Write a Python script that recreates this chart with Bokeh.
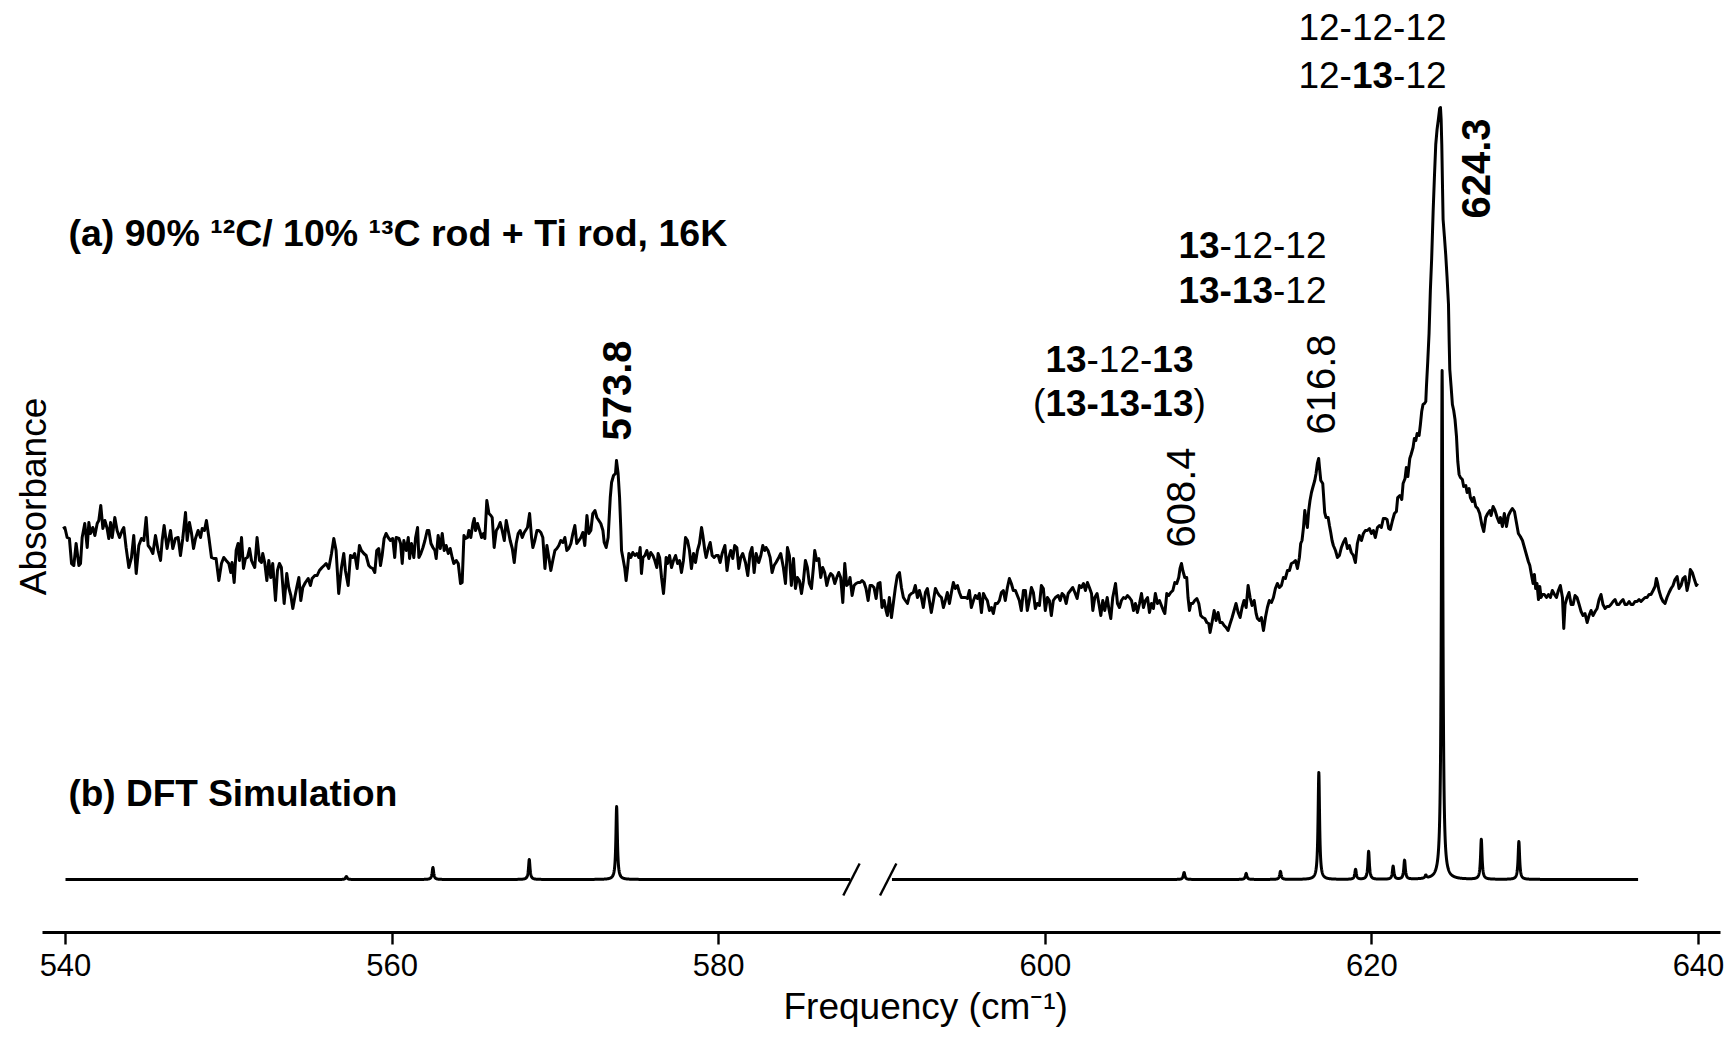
import numpy as np
from bokeh.plotting import figure
from bokeh.models import Range1d, Label, ColumnDataSource, FixedTicker, Title
from bokeh.core.properties import value
from bokeh.embed import file_html
from bokeh.resources import INLINE

# ---------------- data ----------------
# (a) experimental trace, absorbance (arb. units x1000) vs frequency (cm-1)
exp_freq_1 = [539.84, 539.96, 540.10, 540.24, 540.37, 540.51, 540.65, 540.82, 540.92, 541.02,
              541.18, 541.33, 541.43, 541.53, 541.67, 541.80, 541.94, 542.04, 542.16, 542.29,
              542.41, 542.55, 542.65, 542.76, 542.86, 543.02, 543.16, 543.31, 543.47, 543.57,
              543.71, 543.88, 544.04, 544.18, 544.33, 544.49, 544.65, 544.80, 544.94, 545.06,
              545.20, 545.35, 545.51, 545.67, 545.82, 545.92, 546.04, 546.22, 546.43, 546.57,
              546.73, 546.90, 547.04, 547.18, 547.35, 547.45, 547.59, 547.71, 547.84, 547.96,
              548.12, 548.27, 548.37, 548.51, 548.63, 548.78, 548.94, 549.08, 549.22, 549.39,
              549.55, 549.69, 549.84, 550.00, 550.12, 550.20, 550.33, 550.45, 550.57, 550.65,
              550.78, 550.90, 551.02, 551.14, 551.27, 551.39, 551.47, 551.59, 551.73, 551.88,
              552.00, 552.08, 552.20, 552.33, 552.45, 552.57, 552.69, 552.86, 552.98, 553.10,
              553.22, 553.39, 553.55, 553.67, 553.80, 553.92, 554.04, 554.16, 554.29, 554.41,
              554.53, 554.69, 554.86, 555.00, 555.10, 555.27, 555.41, 555.55, 555.71, 555.84,
              555.96, 556.12, 556.29, 556.43, 556.57, 556.73, 556.90, 557.04, 557.14, 557.31,
              557.45, 557.59, 557.71, 557.86, 558.00, 558.12, 558.27, 558.41, 558.57, 558.69,
              558.82, 558.94, 559.06, 559.18, 559.29, 559.39, 559.51, 559.63, 559.76, 559.90,
              560.04, 560.16]
exp_abs_1 = [404, 405, 395, 394, 369, 367, 389, 367, 369, 395,
             409, 385, 410, 399, 405, 397, 409, 412, 427, 404,
             412, 404, 394, 410, 395, 415, 402, 395, 402, 405,
             385, 365, 375, 397, 359, 387, 394, 392, 415, 387,
             384, 379, 397, 382, 372, 392, 407, 384, 402, 384,
             394, 395, 377, 394, 420, 392, 410, 400, 384, 394,
             402, 395, 404, 402, 412, 395, 375, 374, 374, 352,
             369, 375, 372, 369, 360, 370, 350, 382, 389, 372,
             395, 364, 374, 375, 384, 372, 369, 365, 395, 372,
             370, 379, 370, 352, 372, 355, 369, 332, 362, 369,
             365, 329, 359, 345, 337, 324, 335, 345, 355, 332,
             345, 350, 354, 347, 354, 357, 357, 362, 365, 367,
             369, 364, 379, 394, 382, 339, 365, 379, 362, 347,
             377, 375, 379, 364, 387, 382, 379, 377, 367, 365,
             364, 360, 382, 384, 367, 377, 394, 399, 395, 392,
             394, 375]

exp_freq_2 = [560.25, 560.42, 560.52, 560.62, 560.72, 560.87, 560.99, 561.07, 561.19, 561.33,
              561.44, 561.56, 561.64, 561.76, 561.89, 562.01, 562.15, 562.25, 562.38, 562.50,
              562.62, 562.70, 562.82, 562.95, 563.07, 563.19, 563.31, 563.44, 563.56, 563.68,
              563.78, 563.93, 564.05, 564.19, 564.29, 564.40, 564.50, 564.62, 564.70, 564.82,
              564.95, 565.03, 565.11, 565.23, 565.36, 565.48, 565.60, 565.68, 565.80, 565.93,
              566.05, 566.13, 566.25, 566.38, 566.50, 566.62, 566.74, 566.87, 566.99, 567.11,
              567.23, 567.36, 567.48, 567.60, 567.72, 567.84, 567.97, 568.09, 568.17, 568.29,
              568.42, 568.54, 568.62, 568.74, 568.87, 568.99, 569.11, 569.23, 569.36, 569.48,
              569.60, 569.72, 569.84, 569.97, 570.09, 570.21, 570.33, 570.46, 570.58, 570.70,
              570.82, 570.95, 571.07, 571.19, 571.31, 571.44, 571.56, 571.68, 571.80, 571.93,
              572.05, 572.17, 572.29, 572.42, 572.54, 572.66, 572.78, 572.91, 572.99, 573.11,
              573.23, 573.36, 573.44, 573.56, 573.68, 573.74, 573.84, 573.93, 574.01, 574.05,
              574.13, 574.25, 574.33, 574.42, 574.50, 574.62, 574.74, 574.87, 574.99, 575.11,
              575.19, 575.27, 575.36, 575.48, 575.60, 575.72, 575.84, 575.97, 576.09, 576.21,
              576.29, 576.38, 576.50, 576.62, 576.70, 576.78, 576.87, 576.99, 577.11, 577.23,
              577.36, 577.48, 577.60, 577.72, 577.84, 577.97, 578.09, 578.21, 578.33, 578.46,
              578.58, 578.70, 578.82, 578.95, 579.03, 579.15, 579.23, 579.36, 579.48, 579.60,
              579.72, 579.84, 579.97, 580.09, 580.21, 580.38]
exp_abs_2 = [395, 394, 389, 369, 392, 382, 395, 374, 389, 375,
             395, 405, 375, 379, 385, 392, 402, 402, 389, 385,
             382, 374, 397, 384, 399, 382, 387, 379, 384, 375,
             369, 372, 369, 349, 350, 397, 394, 395, 402, 395,
             409, 414, 402, 409, 402, 395, 399, 394, 432, 419,
             417, 415, 385, 402, 405, 410, 402, 392, 412, 402,
             392, 384, 370, 389, 399, 402, 395, 400, 402, 405,
             419, 395, 385, 392, 402, 402, 400, 395, 364, 387,
             375, 362, 372, 382, 384, 387, 392, 390, 395, 382,
             384, 389, 399, 407, 389, 392, 395, 400, 387, 417,
             399, 402, 419, 422, 415, 412, 409, 402, 390, 385,
             395, 435, 450, 457, 459, 472, 459, 435, 402, 382,
             375, 364, 352, 365, 379, 375, 380, 377, 379, 375,
             385, 359, 375, 377, 382, 374, 380, 377, 372, 365,
             379, 375, 355, 339, 355, 375, 369, 377, 365, 372,
             377, 369, 372, 360, 372, 395, 392, 382, 364, 379,
             370, 382, 389, 405, 397, 382, 375, 384, 390, 377,
             375, 377, 377, 370, 379, 387]

exp_freq_3 = [580.51, 580.62, 580.74, 580.86, 580.98, 581.11, 581.23, 581.35, 581.47, 581.64,
              581.78, 581.92, 582.04, 582.17, 582.29, 582.45, 582.58, 582.70, 582.82, 582.90,
              583.02, 583.15, 583.27, 583.39, 583.51, 583.68, 583.80, 583.96, 584.09, 584.21,
              584.33, 584.45, 584.58, 584.70, 584.82, 584.94, 585.07, 585.19, 585.31, 585.43,
              585.55, 585.68, 585.80, 585.88, 586.00, 586.13, 586.25, 586.37, 586.49, 586.62,
              586.74, 586.86, 586.98, 587.11, 587.23, 587.35, 587.47, 587.60, 587.72, 587.84,
              587.96, 588.04, 588.17, 588.29, 588.41, 588.53, 588.66, 588.78, 588.90, 589.02,
              589.15, 589.27, 589.39, 589.51, 589.64, 589.76, 589.88, 590.00, 590.13, 590.25,
              590.33, 590.45, 590.58, 590.70, 590.82, 590.94, 591.07, 591.19, 591.31, 591.43,
              591.56, 591.68, 591.80, 591.92, 592.04, 592.17, 592.29, 592.41, 592.53, 592.66,
              592.78, 592.90, 593.02, 593.15, 593.27, 593.39, 593.51, 593.64, 593.76, 593.88,
              594.00, 594.13, 594.25, 594.37, 594.49, 594.62, 594.74, 594.86, 594.98, 595.11,
              595.23, 595.35, 595.47, 595.60, 595.72, 595.84, 595.96, 596.09, 596.21, 596.33,
              596.45, 596.58, 596.70, 596.82, 596.94, 597.07, 597.19, 597.31, 597.43, 597.55,
              597.68, 597.80, 597.92, 598.04, 598.17, 598.29, 598.41, 598.53, 598.66, 598.78,
              598.90, 599.02, 599.15, 599.27, 599.39, 599.51, 599.64, 599.76, 599.88, 600.00,
              600.13, 600.25, 600.37, 600.49, 600.62]
exp_abs_3 = [362, 375, 382, 374, 387, 385, 364, 375, 379, 370,
             357, 379, 385, 360, 379, 370, 377, 387, 382, 385,
             382, 375, 360, 367, 370, 375, 379, 365, 349, 385,
             377, 347, 374, 344, 355, 352, 339, 352, 372, 365,
             349, 344, 365, 382, 372, 374, 355, 365, 360, 347,
             355, 359, 357, 349, 355, 360, 355, 330, 369, 347,
             349, 355, 337, 347, 349, 350, 350, 352, 350, 344,
             332, 347, 347, 345, 334, 349, 350, 325, 332, 322,
             317, 335, 315, 330, 345, 357, 360, 345, 335, 332,
             329, 337, 339, 340, 347, 335, 342, 335, 325, 340,
             344, 332, 320, 332, 344, 340, 337, 335, 325, 332,
             340, 329, 340, 350, 344, 347, 340, 335, 335, 335,
             334, 342, 325, 332, 337, 334, 339, 320, 339, 335,
             332, 322, 325, 319, 329, 329, 332, 340, 342, 332,
             345, 354, 349, 342, 342, 337, 332, 322, 342, 342,
             322, 332, 345, 340, 324, 329, 327, 347, 344, 322,
             335, 332, 317, 332, 335]

exp_freq_4 = [600.79, 600.91, 601.03, 601.15, 601.28, 601.40, 601.54, 601.68, 601.81, 601.95,
              602.09, 602.21, 602.34, 602.46, 602.58, 602.70, 602.83, 602.91, 603.03, 603.17,
              603.28, 603.40, 603.52, 603.64, 603.79, 603.89, 604.01, 604.13, 604.30, 604.42,
              604.54, 604.66, 604.79, 604.91, 605.03, 605.15, 605.28, 605.40, 605.52, 605.64,
              605.77, 605.89, 606.01, 606.13, 606.26, 606.38, 606.50, 606.62, 606.74, 606.87,
              606.99, 607.11, 607.23, 607.32, 607.44, 607.56, 607.68, 607.81, 607.93, 608.05,
              608.17, 608.25, 608.34, 608.42, 608.54, 608.66, 608.74, 608.83, 608.91, 609.03,
              609.15, 609.28, 609.40, 609.52, 609.64, 609.77, 609.89, 610.01, 610.09, 610.21,
              610.34, 610.46, 610.58, 610.70, 610.83, 610.95, 611.07, 611.19, 611.32, 611.44,
              611.56, 611.68, 611.81, 611.93, 612.05, 612.17, 612.30, 612.42, 612.54, 612.66,
              612.79, 612.91, 612.99, 613.11, 613.23, 613.36, 613.48, 613.60, 613.72, 613.85,
              613.97, 614.09, 614.21, 614.34, 614.46, 614.58, 614.70, 614.83, 614.95, 615.07,
              615.19, 615.32, 615.44, 615.56, 615.64, 615.72, 615.81, 615.89, 615.97, 616.05,
              616.13, 616.21, 616.30, 616.38, 616.50, 616.58, 616.66, 616.74, 616.79, 616.87,
              616.99, 617.11, 617.19, 617.32, 617.40, 617.48, 617.56, 617.64, 617.77, 617.89,
              618.01, 618.13, 618.25, 618.38, 618.50, 618.62, 618.74, 618.87, 618.99, 619.11,
              619.23, 619.36, 619.48, 619.60, 619.72, 619.85, 619.97, 620.09, 620.21, 620.34,
              620.46, 620.58, 620.70, 620.83]
exp_abs_4 = [337, 332, 339, 337, 329, 339, 342, 345, 340, 334,
             347, 345, 349, 342, 350, 345, 339, 322, 335, 339,
             329, 317, 332, 322, 335, 324, 314, 335, 349, 329,
             325, 332, 335, 334, 337, 335, 332, 322, 329, 320,
             329, 339, 325, 332, 335, 320, 329, 324, 339, 329,
             332, 327, 322, 319, 339, 337, 340, 342, 350, 349,
             355, 364, 369, 362, 355, 355, 335, 322, 329, 329,
             332, 334, 329, 317, 315, 314, 310, 309, 300, 310,
             322, 312, 320, 310, 310, 307, 305, 302, 309, 315,
             322, 329, 320, 315, 325, 332, 325, 347, 335, 327,
             332, 319, 314, 312, 315, 302, 315, 325, 332, 330,
             335, 344, 349, 345, 347, 355, 354, 362, 362, 369,
             370, 372, 364, 375, 389, 392, 405, 422, 412, 405,
             422, 432, 440, 445, 452, 459, 469, 474, 465, 452,
             449, 420, 415, 415, 407, 400, 392, 387, 382, 375,
             377, 385, 390, 394, 384, 387, 380, 377, 370, 389,
             397, 392, 399, 402, 402, 404, 399, 402, 395, 405,
             407, 405, 414, 414]

exp_freq_5 = [620.93, 621.03, 621.13, 621.26, 621.38, 621.50, 621.58, 621.71, 621.83, 621.91,
              622.03, 622.11, 622.20, 622.32, 622.40, 622.52, 622.60, 622.69, 622.77, 622.89,
              622.97, 623.05, 623.13, 623.22, 623.30, 623.34, 623.42, 623.50, 623.58, 623.66,
              623.75, 623.83, 623.91, 623.99, 624.07, 624.15, 624.20, 624.24, 624.28, 624.32,
              624.36, 624.44, 624.52, 624.60, 624.69, 624.73, 624.77, 624.85, 624.93, 625.01,
              625.09, 625.18, 625.26, 625.34, 625.42, 625.54, 625.62, 625.75, 625.83, 625.95,
              626.03, 626.15, 626.24, 626.36, 626.48, 626.60, 626.73, 626.85, 626.97, 627.09,
              627.22, 627.30, 627.42, 627.54, 627.67, 627.79, 627.87, 627.99, 628.11, 628.24,
              628.36, 628.48, 628.60, 628.73, 628.85, 628.97, 629.09, 629.22, 629.34, 629.46,
              629.58, 629.67, 629.79, 629.87, 629.95, 630.03, 630.11, 630.20, 630.28, 630.36,
              630.44, 630.56, 630.69, 630.81, 630.93, 631.05, 631.18, 631.30, 631.42, 631.54,
              631.67, 631.75, 631.83, 631.95, 632.07, 632.20, 632.32, 632.44, 632.56, 632.69,
              632.81, 632.93, 633.05, 633.18, 633.30, 633.42, 633.54, 633.67, 633.79, 633.91,
              634.03, 634.15, 634.28, 634.40, 634.52, 634.64, 634.77, 634.89, 635.01, 635.13,
              635.26, 635.38, 635.50, 635.62, 635.75, 635.87, 635.99, 636.11, 636.24, 636.36,
              636.48, 636.60, 636.73, 636.85, 636.97, 637.09, 637.22, 637.34, 637.42, 637.50,
              637.58, 637.71, 637.83, 637.95, 638.07, 638.20, 638.32, 638.44, 638.56, 638.69,
              638.81, 638.93, 639.05, 639.18, 639.30, 639.42, 639.50, 639.62, 639.75, 639.87,
              639.95]
exp_abs_5 = [413, 404, 403, 412, 419, 421, 435, 437, 433, 449,
             454, 465, 456, 474, 478, 485, 494, 492, 499, 497,
             508, 521, 528, 529, 531, 546, 571, 599, 642, 674,
             721, 756, 788, 803, 813, 824, 825, 813, 788, 749,
             713, 696, 678, 656, 628, 592, 563, 546, 528, 522,
             513, 496, 471, 458, 455, 453, 446, 447, 440, 444,
             435, 431, 435, 426, 424, 419, 408, 401, 415, 419,
             422, 417, 426, 422, 415, 410, 415, 406, 419, 406,
             417, 421, 424, 421, 410, 399, 396, 392, 385, 378,
             371, 367, 356, 349, 358, 344, 349, 333, 346, 335,
             338, 338, 335, 338, 335, 342, 338, 335, 342, 347,
             335, 304, 328, 335, 340, 328, 328, 337, 335, 328,
             321, 317, 319, 310, 317, 322, 317, 321, 324, 333,
             338, 328, 324, 326, 326, 328, 331, 333, 328, 328,
             331, 333, 328, 328, 331, 328, 328, 331, 331, 333,
             331, 333, 335, 335, 338, 338, 342, 346, 354, 349,
             342, 335, 331, 329, 335, 340, 344, 347, 353, 356,
             344, 347, 354, 356, 342, 351, 363, 360, 353, 347,
             349]

# (b) DFT simulation: stick positions (cm-1) and intensities (same arb. units)
sim_peak_freq = [557.2, 562.5, 568.4, 573.75, 608.5, 612.3, 614.4, 616.75,
                 619.0, 619.8, 621.3, 622.0, 623.3, 624.3, 626.7, 629.0]
sim_peak_int = [3, 12, 20, 73, 7, 6, 8, 107, 10, 28, 13, 19, 3, 509, 40, 38]
sim_offset = 53            # vertical offset of trace (b)
sim_span = (540.0, 636.3)  # simulated range
sim_gap = (588.05, 590.6)  # broken-axis gap in trace (b)
sim_fwhm = 0.11

tick_values = [540, 560, 580, 600, 620, 640]

# ---------------- figure ----------------
FONT = "Liberation Sans"
W, H = 1729, 1040
PX = 16.33                      # pixels per cm-1
X0 = 540 - 65 / PX              # frame starts at the left edge of the canvas
p = figure(width=W, height=H, output_backend="svg", toolbar_location=None,
           x_range=Range1d(X0, X0 + 1720 / PX), y_range=Range1d(0, 932),
           min_border_left=0, min_border_right=9, min_border_top=0,
           min_border_bottom=108)
p.outline_line_color = None
p.grid.visible = False
p.yaxis.visible = False
p.background_fill_color = "white"
p.border_fill_color = "white"

xa = p.xaxis[0]
xa.ticker = FixedTicker(ticks=tick_values)
xa.bounds = (540 - 23 / PX, X0 + 1720 / PX)
xa.axis_line_width = 3
xa.axis_line_color = "black"
xa.major_tick_line_width = 2.4
xa.major_tick_line_color = "black"
xa.major_tick_out = 12
xa.major_tick_in = 0
xa.minor_tick_line_color = None
xa.major_label_text_font = FONT
xa.major_label_text_font_size = "31px"
xa.major_label_text_color = "black"
xa.major_label_standoff = 9

# x-axis title, placed in its own panel below the axis
p.add_layout(Title(text="Frequency (cm\u207b\u00b9)", align="left", offset=783,
                   vertical_align="top", standoff=15, text_font=FONT,
                   text_font_size="37px", text_font_style="normal",
                   text_color="black"), "below")

# experimental trace
exp_freq = exp_freq_1 + exp_freq_2 + exp_freq_3 + exp_freq_4 + exp_freq_5
exp_abs = exp_abs_1 + exp_abs_2 + exp_abs_3 + exp_abs_4 + exp_abs_5
p.line(exp_freq, exp_abs, line_color="black", line_width=3, line_join="round")

# simulated trace: Lorentzian-broadened sticks
grid = np.union1d(np.arange(sim_span[0], sim_span[1] + 1e-9, 0.01), sim_peak_freq)
hw = sim_fwhm / 2
sim = np.full_like(grid, float(sim_offset))
for f0, a0 in zip(sim_peak_freq, sim_peak_int):
    sim += a0 / (1 + ((grid - f0) / hw) ** 2)
sim[(grid > sim_gap[0]) & (grid < sim_gap[1])] = np.nan
p.line(grid, sim, line_color="black", line_width=3, line_join="round")

# break marks "/ /"
slash_centers = [588.13, 590.38]
p.segment(x0=[c - 0.5 for c in slash_centers], y0=[sim_offset - 16] * 2,
          x1=[c + 0.5 for c in slash_centers], y1=[sim_offset + 16] * 2,
          line_color="black", line_width=2.4)

# panel titles
p.add_layout(Label(x=540.18, y=700, text="(a) 90% \u00b9\u00b2C/ 10% \u00b9\u00b3C rod + Ti rod, 16K",
                   text_font=FONT, text_font_size="37.5px", text_font_style="bold",
                   text_baseline="alphabetic", text_align="left", text_color="black"))
p.add_layout(Label(x=540.18, y=139, text="(b) DFT Simulation",
                   text_font=FONT, text_font_size="37px", text_font_style="bold",
                   text_baseline="alphabetic", text_align="left", text_color="black"))

# y-axis title
p.add_layout(Label(x=540 - 32 / PX, y=436, text="Absorbance", angle=np.pi / 2,
                   text_font=FONT, text_font_size="37px", text_align="center",
                   text_baseline="middle", text_color="black"))

# peak labels (rotated)
peak_label_text = ["573.8", "608.4", "616.8", "624.3"]
peak_label_pos = [(573.8, 492), (608.34, 385), (616.86, 498), (626.4, 714)]
peak_label_style = ["bold", "normal", "normal", "bold"]
for t, (xx, yy), st in zip(peak_label_text, peak_label_pos, peak_label_style):
    p.add_layout(Label(x=xx, y=yy, text=t, angle=np.pi / 2, text_font=FONT,
                       text_font_size="40px", text_font_style=st, text_align="left",
                       text_baseline="middle", text_color="black"))

# isotopomer labels with mixed bold / normal segments
iso_lines = [
    [("12-12-12", "normal")],
    [("12-", "normal"), ("13", "bold"), ("-12", "normal")],
    [("13", "bold"), ("-12-12", "normal")],
    [("13-13", "bold"), ("-12", "normal")],
    [("13", "bold"), ("-12-", "normal"), ("13", "bold")],
    [("(", "normal"), ("13-13-13", "bold"), (")", "normal")],
]
iso_anchor = [(624.57, 906, "right"), (624.57, 858, "right"),
              (617.22, 688, "right"), (617.22, 643, "right"),
              (604.54, 574, "center"), (604.54, 530, "center")]
ISO_FS = 37
CHAR_EM = {**{d: 0.556 for d in "0123456789"}, "-": 0.333, "(": 0.333, ")": 0.333}

def em(s):
    return sum(CHAR_EM[c] for c in s)

segs = {"bold": dict(x=[], y=[], t=[], xo=[]), "normal": dict(x=[], y=[], t=[], xo=[])}
for line, (ax, ay, al) in zip(iso_lines, iso_anchor):
    total = em("".join(s for s, _ in line)) * ISO_FS
    start = -total if al == "right" else -total / 2
    cum = 0.0
    for s, st in line:
        d = segs[st]
        d["x"].append(ax); d["y"].append(ay); d["t"].append(s); d["xo"].append(start + cum)
        cum += em(s) * ISO_FS
for st, d in segs.items():
    p.text(x="x", y="y", text="t", x_offset="xo", source=ColumnDataSource(d),
           text_font=value(FONT), text_font_size=f"{ISO_FS}px", text_font_style=st,
           text_align="left", text_baseline="alphabetic", text_color="black")

open("out.html", "w").write(file_html(p, INLINE))
